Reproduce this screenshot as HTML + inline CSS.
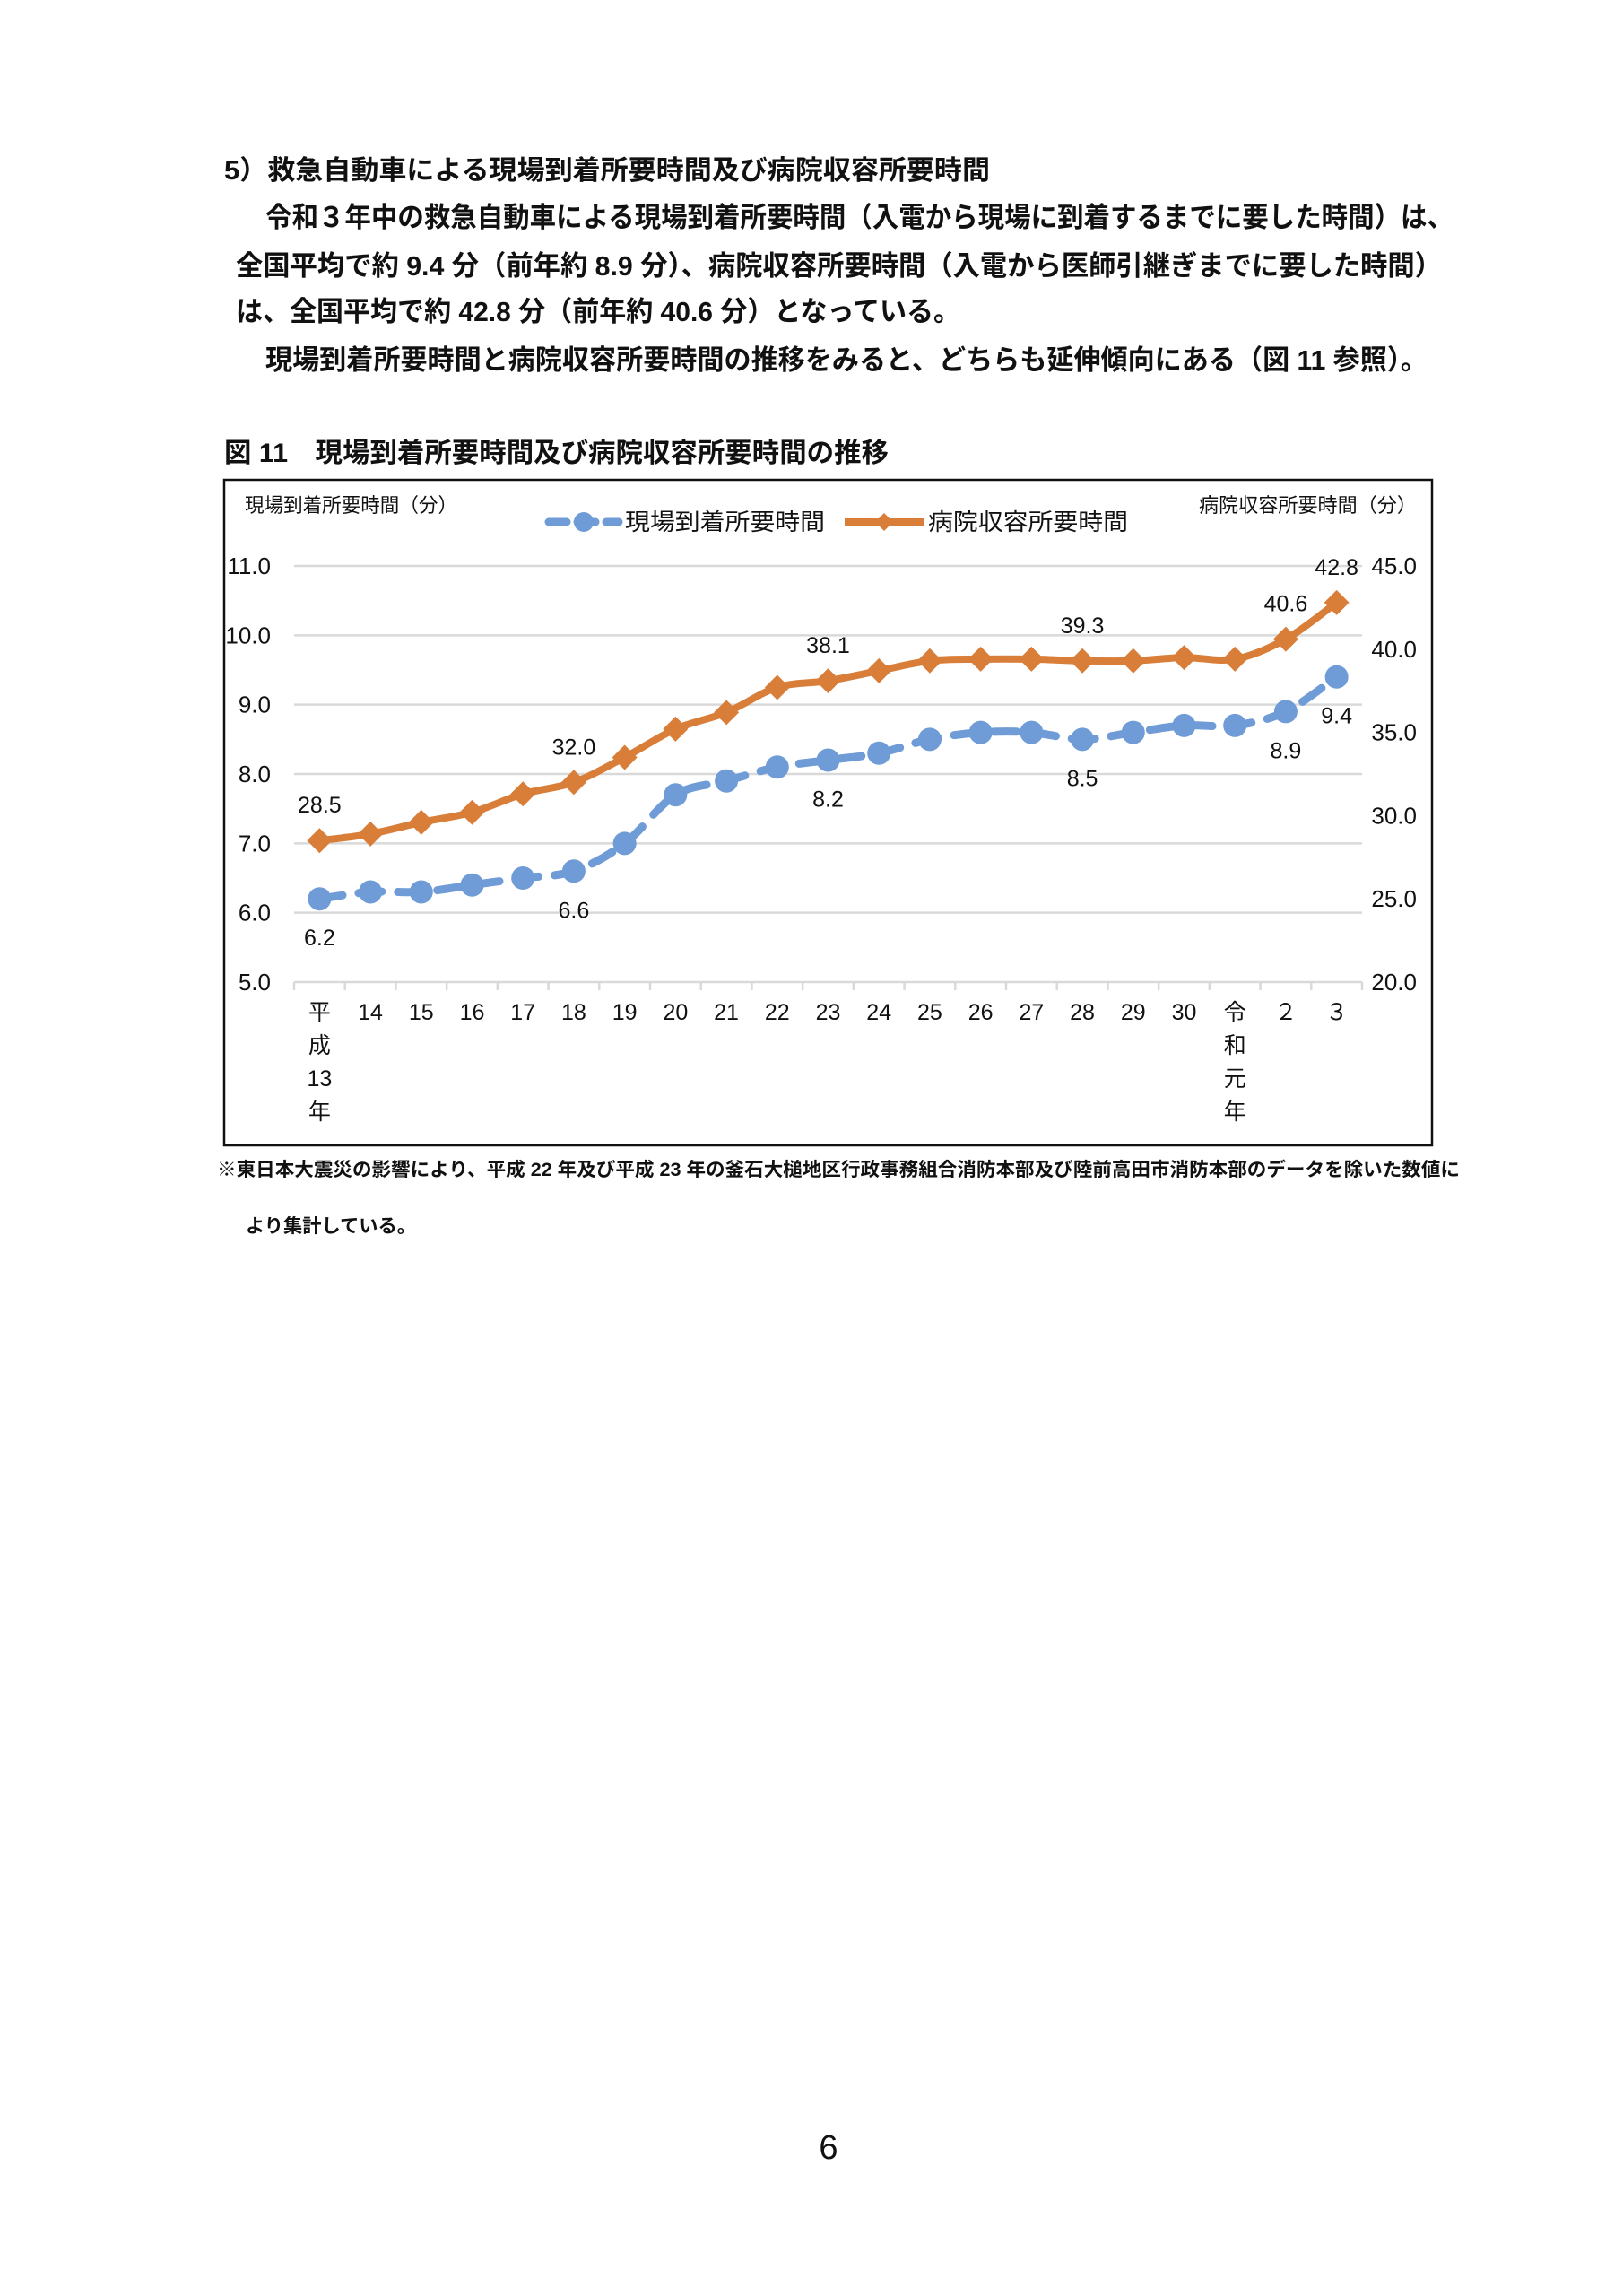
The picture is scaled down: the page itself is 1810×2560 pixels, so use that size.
<!DOCTYPE html>
<html lang="ja"><head><meta charset="utf-8"><title>図11</title>
<style>
html,body{margin:0;padding:0;background:#fff;}
svg{display:block;}
.jp{font-family:"Liberation Sans","Noto Sans CJK JP",sans-serif;}
</style></head>
<body>
<svg id="page" width="1810" height="2560" viewBox="0 0 1810 2560" xmlns="http://www.w3.org/2000/svg">
<g class="jp" font-weight="bold" fill="#111">
<text x="250" y="200" font-size="30" textLength="854" lengthAdjust="spacingAndGlyphs">5）救急自動車による現場到着所要時間及び病院収容所要時間</text>
<text x="296" y="253" font-size="31" textLength="1325" lengthAdjust="spacingAndGlyphs">令和３年中の救急自動車による現場到着所要時間（入電から現場に到着するまでに要した時間）は、</text>
<text x="263" y="307" font-size="31" textLength="1345" lengthAdjust="spacingAndGlyphs">全国平均で約 9.4 分（前年約 8.9 分）、病院収容所要時間（入電から医師引継ぎまでに要した時間）</text>
<text x="263" y="358" font-size="31" textLength="808" lengthAdjust="spacingAndGlyphs">は、全国平均で約 42.8 分（前年約 40.6 分）となっている。</text>
<text x="296" y="412" font-size="31" textLength="1296" lengthAdjust="spacingAndGlyphs">現場到着所要時間と病院収容所要時間の推移をみると、どちらも延伸傾向にある（図 11 参照）。</text>
<text x="250" y="515" font-size="30" textLength="741" lengthAdjust="spacingAndGlyphs">図 11　現場到着所要時間及び病院収容所要時間の推移</text>
<text x="242" y="1311" font-size="21" textLength="1386" lengthAdjust="spacingAndGlyphs">※東日本大震災の影響により、平成 22 年及び平成 23 年の釜石大槌地区行政事務組合消防本部及び陸前高田市消防本部のデータを除いた数値に</text>
<text x="274" y="1374" font-size="21" textLength="190" lengthAdjust="spacingAndGlyphs">より集計している。</text>
<text x="924" y="2407" font-size="38" font-weight="normal" text-anchor="middle" font-family="Liberation Sans Narrow, Liberation Sans, sans-serif">6</text>
</g>
<rect x="250" y="535" width="1347" height="742" fill="none" stroke="#111" stroke-width="2.5"/>
<g id="chart"></g>
</svg>
<script>
const categories = ["平成13年","14","15","16","17","18","19","20","21","22","23","24","25","26","27","28","29","30","令和元年","２","３"];
const arrivalMinutes = [6.2,6.3,6.3,6.4,6.5,6.6,7.0,7.7,7.9,8.1,8.2,8.3,8.5,8.6,8.6,8.5,8.6,8.7,8.7,8.9,9.4];
const hospitalMinutes = [28.5,28.9,29.6,30.2,31.3,32.0,33.5,35.2,36.2,37.7,38.1,38.7,39.3,39.4,39.4,39.3,39.3,39.5,39.4,40.6,42.8];
const leftTicks = [5,6,7,8,9,10,11];
const rightTicks = [20,25,30,35,40,45];
const arrivalLabelIdx = [0,5,10,15,19,20];
const hospitalLabelIdx = [0,5,10,15,19,20];

const NS = "http://www.w3.org/2000/svg";
const g = document.getElementById("chart");
const plotL = 328, plotR = 1519, plotT = 631, plotB = 1095;
const step = (plotR - plotL) / categories.length;
function xPos(i){ return plotL + step * (i + 0.5); }
function yLeft(v){ return plotB - (v - 5) / 6 * (plotB - plotT); }
function yRight(v){ return plotB - (v - 20) / 25 * (plotB - plotT); }
function mk(tag, attrs, parent){
  const e = document.createElementNS(NS, tag);
  for (const k in attrs) e.setAttribute(k, attrs[k]);
  (parent || g).appendChild(e);
  return e;
}
function fmt(v){ return v.toFixed(1); }
const numFont = '"Liberation Sans", sans-serif';
const jpFont = '"Liberation Sans","Noto Sans CJK JP",sans-serif';

// gridlines + left ticks
leftTicks.forEach(v => {
  const y = yLeft(v);
  const ln = mk("line", {x1: plotL, x2: plotR, y1: y, y2: y, stroke: "#d9d9d9", "stroke-width": 2.5});
  
  
  const t = mk("text", {x: 302, y: y + 9, "text-anchor": "end", "font-size": 26, fill: "#111", "font-family": numFont});
  t.textContent = fmt(v);
  
  
});
rightTicks.forEach(v => {
  const y = yRight(v);
  const t = mk("text", {x: 1580, y: y + 9, "text-anchor": "end", "font-size": 26, fill: "#111", "font-family": numFont});
  t.textContent = fmt(v);
  
  
});
// x tick marks
for (let i = 0; i <= categories.length; i++) {
  const x = plotL + step * i;
  const tk = mk("line", {x1: x, x2: x, y1: plotB, y2: plotB + 9, stroke: "#d9d9d9", "stroke-width": 2.5});
  
  
}
// x labels
categories.forEach((c, i) => {
  let parts;
  if (c === "平成13年") parts = ["平","成","13","年"];
  else if (c === "令和元年") parts = ["令","和","元","年"];
  else parts = [c];
  parts.forEach((p, k) => {
    const t = mk("text", {x: xPos(i), y: 1137 + k * 37, "text-anchor": "middle", "font-size": 25, fill: "#111", "font-family": jpFont});
    t.textContent = p;
    
    
  });
});
// smooth path (Catmull-Rom)
function smoothPath(pts){
  let d = "M" + pts[0][0] + "," + pts[0][1];
  for (let i = 0; i < pts.length - 1; i++) {
    const p0 = pts[Math.max(0, i - 1)], p1 = pts[i], p2 = pts[i + 1], p3 = pts[Math.min(pts.length - 1, i + 2)];
    const t = 1/6;
    const c1 = [p1[0] + (p2[0] - p0[0]) * t, p1[1] + (p2[1] - p0[1]) * t];
    const c2 = [p2[0] - (p3[0] - p1[0]) * t, p2[1] - (p3[1] - p1[1]) * t];
    d += " C" + c1[0] + "," + c1[1] + " " + c2[0] + "," + c2[1] + " " + p2[0] + "," + p2[1];
  }
  return d;
}
const orange = "#d97e39", blue = "#6f9bd7";
// hospital series
const hPts = hospitalMinutes.map((v, i) => [xPos(i), yRight(v)]);
const hLine = mk("path", {d: smoothPath(hPts), fill: "none", stroke: orange, "stroke-width": 8, "stroke-linejoin": "round"});


hPts.forEach(p => {
  const s = 14;
  const m = mk("polygon", {points: `${p[0]},${p[1]-s} ${p[0]+s},${p[1]} ${p[0]},${p[1]+s} ${p[0]-s},${p[1]}`, fill: orange});
  
  
});
// arrival series
const aPts = arrivalMinutes.map((v, i) => [xPos(i), yLeft(v)]);
const aLine = mk("path", {d: smoothPath(aPts), fill: "none", stroke: blue, "stroke-width": 9, "stroke-dasharray": "26 18", "stroke-linecap": "round"});


aPts.forEach(p => {
  const m = mk("circle", {cx: p[0], cy: p[1], r: 13, fill: blue});
  
  
});
// data labels
hospitalLabelIdx.forEach(i => {
  const t = mk("text", {x: xPos(i), y: yRight(hospitalMinutes[i]) - 31, "text-anchor": "middle", "font-size": 25, fill: "#111", "font-family": numFont});
  t.textContent = fmt(hospitalMinutes[i]);
  
  
});
arrivalLabelIdx.forEach(i => {
  const t = mk("text", {x: xPos(i), y: yLeft(arrivalMinutes[i]) + 52, "text-anchor": "middle", "font-size": 25, fill: "#111", "font-family": numFont});
  t.textContent = fmt(arrivalMinutes[i]);
  
  
});
// axis titles
const lt = mk("text", {x: 273, y: 571, "font-size": 22, fill: "#111", "font-family": jpFont, textLength: 237, lengthAdjust: "spacingAndGlyphs"});
lt.textContent = "現場到着所要時間（分）";


const rt = mk("text", {x: 1337, y: 571, "font-size": 22, fill: "#111", "font-family": jpFont, textLength: 243, lengthAdjust: "spacingAndGlyphs"});
rt.textContent = "病院収容所要時間（分）";


// legend
const legB = mk("g", {});


mk("line", {x1: 612, x2: 690, y1: 582, y2: 582, stroke: blue, "stroke-width": 9, "stroke-dasharray": "20 12", "stroke-linecap": "round"}, legB);
mk("circle", {cx: 651, cy: 582, r: 11, fill: blue}, legB);
const lbt = mk("text", {x: 697, y: 591, "font-size": 26, fill: "#111", "font-family": jpFont, textLength: 223, lengthAdjust: "spacingAndGlyphs"}, legB);
lbt.textContent = "現場到着所要時間";
const legO = mk("g", {});


mk("line", {x1: 942, x2: 1030, y1: 582, y2: 582, stroke: orange, "stroke-width": 8}, legO);
mk("polygon", {points: "986,572 996,582 986,592 976,582", fill: orange}, legO);
const lot = mk("text", {x: 1035, y: 591, "font-size": 26, fill: "#111", "font-family": jpFont, textLength: 223, lengthAdjust: "spacingAndGlyphs"}, legO);
lot.textContent = "病院収容所要時間";
</script>
</body></html>
